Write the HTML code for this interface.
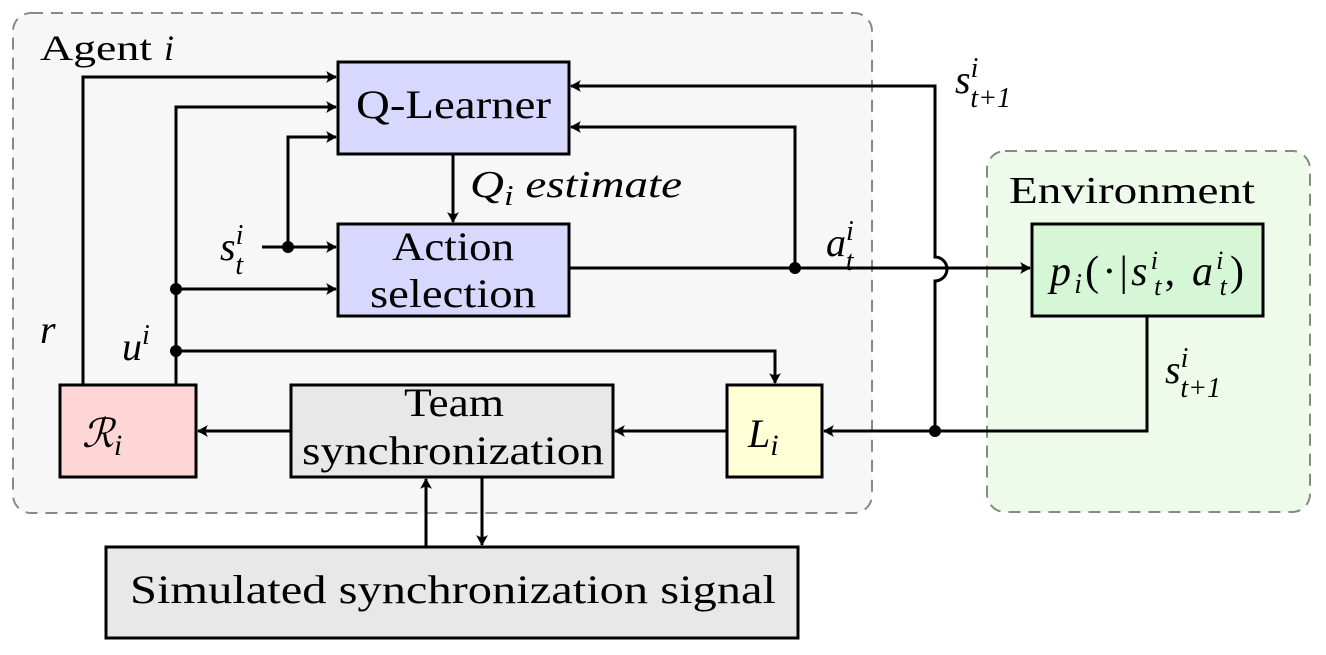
<!DOCTYPE html>
<html><head><meta charset="utf-8"><style>
html,body{margin:0;padding:0;background:#fff;}
svg{display:block;font-family:"Liberation Serif",serif;}
.t{font-size:40px;fill:#000;}
.i{font-style:italic;}
</style></head><body>
<svg width="1326" height="655" viewBox="0 0 1326 655">
<defs>
<marker id="a" markerWidth="12" markerHeight="12" refX="10" refY="6" orient="auto" markerUnits="userSpaceOnUse">
<path d="M0,0 Q4,6 0,12 L11,6 Z" fill="#000"/></marker>
</defs>
<rect x="13" y="13" width="859" height="500" rx="18" fill="#f7f7f7" stroke="#888" stroke-width="2" stroke-dasharray="12,8"/>
<rect x="987" y="151" width="323" height="361" rx="18" fill="#effbea" stroke="#888" stroke-width="2" stroke-dasharray="12,8"/>
<g stroke="#000" stroke-width="3">
<rect x="338" y="62" width="231" height="92" fill="#d8d8ff"/>
<rect x="338" y="224" width="231" height="92" fill="#d8d8ff"/>
<rect x="1032" y="224" width="231" height="92" fill="#d5f7d5"/>
<rect x="60" y="385" width="136" height="92" fill="#ffd6d6"/>
<rect x="291" y="385" width="322" height="92" fill="#e8e8e8"/>
<rect x="727" y="385" width="95" height="92" fill="#ffffd8"/>
<rect x="106" y="547" width="692" height="91" fill="#e8e8e8"/>
</g>
<g stroke="#000" stroke-width="3" fill="none">
<path d="M83,385 V77 H336" marker-end="url(#a)"/>
<path d="M176,385 V107 H336" marker-end="url(#a)"/>
<path d="M176,289 H336" marker-end="url(#a)"/>
<path d="M176,351 H775 V383" marker-end="url(#a)"/>
<path d="M262,247 H336" marker-end="url(#a)"/>
<path d="M288,247 V137 H336" marker-end="url(#a)"/>
<path d="M453,154 V222" marker-end="url(#a)"/>
<path d="M569,268 H1030" marker-end="url(#a)"/>
<path d="M795,268 V127 H571" marker-end="url(#a)"/>
<path d="M1147,316 V431 H824" marker-end="url(#a)"/>
<path d="M935,431 V281 A12,12 0 0 0 935,257 V86 H571" marker-end="url(#a)"/>
<path d="M727,431 H615" marker-end="url(#a)"/>
<path d="M291,431 H198" marker-end="url(#a)"/>
<path d="M426,547 V479" marker-end="url(#a)"/>
<path d="M482,477 V545" marker-end="url(#a)"/>
</g>
<g fill="#000">
<circle cx="288" cy="247" r="6"/>
<circle cx="176" cy="289" r="6"/>
<circle cx="176" cy="351" r="6"/>
<circle cx="795" cy="268" r="6"/>
<circle cx="935" cy="431" r="6"/>
</g>
<text class="t" x="40" y="60" style="font-size:36px" textLength="112" lengthAdjust="spacingAndGlyphs">Agent</text>
<text class="t i" x="164" y="60" style="font-size:36px">i</text>
<text class="t" x="1009" y="203" style="font-size:38px" textLength="246" lengthAdjust="spacingAndGlyphs">Environment</text>
<text class="t" x="356" y="118" textLength="195" lengthAdjust="spacingAndGlyphs">Q-Learner</text>
<text class="t" x="392" y="260" textLength="122" lengthAdjust="spacingAndGlyphs">Action</text>
<text class="t" x="370" y="307" textLength="166" lengthAdjust="spacingAndGlyphs">selection</text>
<text class="t" x="404" y="416" textLength="100" lengthAdjust="spacingAndGlyphs">Team</text>
<text class="t" x="302" y="464" textLength="302" lengthAdjust="spacingAndGlyphs">synchronization</text>
<text class="t" x="130" y="603" textLength="646" lengthAdjust="spacingAndGlyphs">Simulated synchronization signal</text>
<text class="t i" x="82" y="447">ℛ<tspan font-size="30" dy="8">i</tspan></text>
<text class="t i" x="748" y="447">L<tspan font-size="30" dy="8">i</tspan></text>
<text class="t i" x="1050" y="285" style="font-size:42px" textLength="194" lengthAdjust="spacing">p<tspan font-size="28" dy="8">i</tspan><tspan dy="-8" font-style="normal">(·|</tspan>s<tspan font-size="26" dy="-16">i</tspan><tspan font-size="26" dx="-7" dy="26">t</tspan><tspan dy="-10" font-style="normal">, </tspan>a<tspan font-size="26" dy="-16">i</tspan><tspan font-size="26" dx="-7" dy="26">t</tspan><tspan dy="-10" font-style="normal">)</tspan></text>
<text class="t i" x="470" y="197" style="font-size:38px" textLength="212" lengthAdjust="spacingAndGlyphs">Q<tspan font-size="28" dy="8">i</tspan><tspan dy="-8"> estimate</tspan></text>
<text class="t i" x="955" y="93">s<tspan font-size="28" dy="-16">i</tspan><tspan font-size="28" dx="-8" dy="30">t+1</tspan></text>
<text class="t i" x="1165" y="383">s<tspan font-size="28" dy="-16">i</tspan><tspan font-size="28" dx="-8" dy="30">t+1</tspan></text>
<text class="t i" x="826" y="256">a<tspan font-size="28" dy="-16">i</tspan><tspan font-size="28" dx="-8" dy="30">t</tspan></text>
<text class="t i" x="220" y="260">s<tspan font-size="28" dy="-16">i</tspan><tspan font-size="28" dx="-8" dy="30">t</tspan></text>
<text class="t i" x="40" y="343">r</text>
<text class="t i" x="122" y="360">u<tspan font-size="28" dy="-16">i</tspan></text>
</svg>
</body></html>
